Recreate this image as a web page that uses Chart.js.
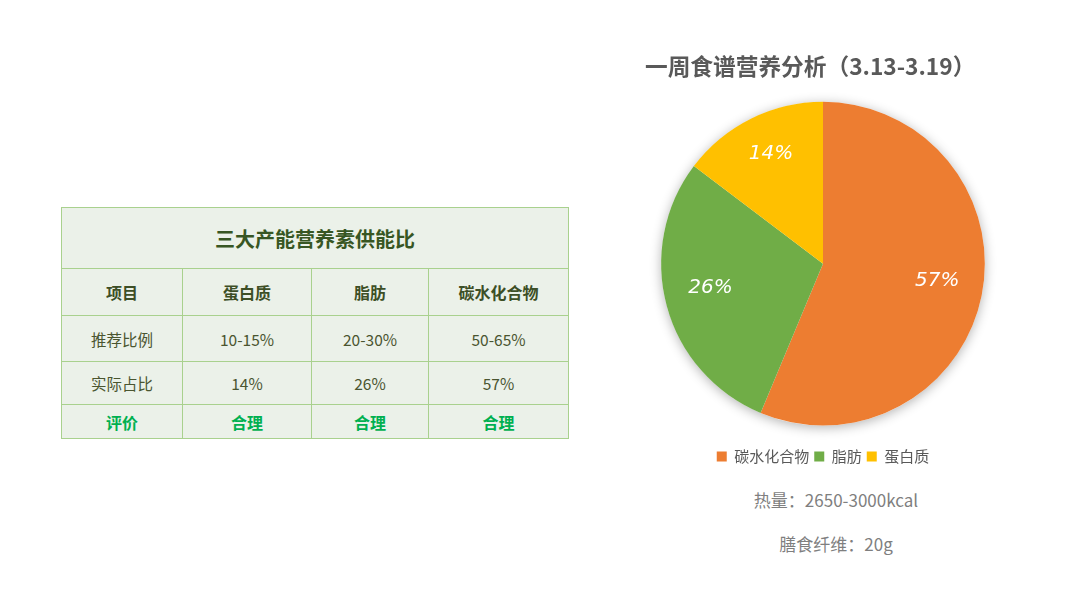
<!DOCTYPE html>
<html>
<head>
<meta charset="utf-8">
<script src="https://cdn.jsdelivr.net/npm/chart.js@4"></script>
<style>
  html, body { margin: 0; padding: 0; background: #ffffff; }
  #page { position: relative; width: 1080px; height: 608px; overflow: hidden; font-family: "Noto Sans CJK SC", "Noto Sans", sans-serif; }
  #tbl { position: absolute; left: 61px; top: 207px; border-collapse: collapse; background: #EBF1E9; table-layout: fixed; }
  #tbl td { border: 1px solid #A9D18E; text-align: center; padding: 0; color: #4A5530; font-size: 15.5px; }
  #tbl tr.title td { height: 60px; font-size: 20px; font-weight: bold; color: #375623; }
  #tbl tr.head td { height: 46px; font-weight: bold; color: #3D4F26; font-size: 16px; }
  #tbl tr.r1 td { height: 45px; }
  #tbl tr.r2 td { height: 42px; }
  #tbl tr.eval td { height: 33px; font-weight: bold; color: #00B050; font-size: 16px; }
  #chartBox { position: absolute; left: 600px; top: 30px; width: 440px; height: 444px; }
  .note { position: absolute; width: 300px; left: 686px; text-align: center; font-size: 17px; color: #7F7F7F; }
</style>
</head>
<body>
<div id="page">
  <table id="tbl"></table>
  <div id="chartBox"><canvas id="c"></canvas></div>
  <div class="note" id="n1" style="top:487px"></div>
  <div class="note" id="n2" style="top:531px"></div>
</div>
<script>
// ---- data ----
const tableTitle = "三大产能营养素供能比";
const tableHeader = ["项目", "蛋白质", "脂肪", "碳水化合物"];
const recommendedRow = ["推荐比例", "10-15%", "20-30%", "50-65%"];
const actualRow = ["实际占比", "14%", "26%", "57%"];
const evaluationRow = ["评价", "合理", "合理", "合理"];
const columnWidths = [121, 129, 117, 140];

const chartTitle = "一周食谱营养分析（3.13-3.19）";
const categories = ["碳水化合物", "脂肪", "蛋白质"];
const sliceValues = [56.3, 29.0, 14.7];
const sliceLabels = ["57%", "26%", "14%"];
const sliceColors = ["#ED7D31", "#70AD47", "#FFC000"];
const notes = ["热量：2650-3000kcal", "膳食纤维：20g"];

// ---- table ----
(function buildTable() {
  const t = document.getElementById('tbl');
  const cg = document.createElement('colgroup');
  columnWidths.forEach(w => { const c = document.createElement('col'); c.style.width = w + 'px'; cg.appendChild(c); });
  t.appendChild(cg);
  const tr0 = document.createElement('tr'); tr0.className = 'title';
  const td0 = document.createElement('td'); td0.colSpan = 4; td0.textContent = tableTitle; tr0.appendChild(td0); t.appendChild(tr0);
  [[tableHeader, 'head'], [recommendedRow, 'r1'], [actualRow, 'r2'], [evaluationRow, 'eval']].forEach(([row, cls]) => {
    const tr = document.createElement('tr'); tr.className = cls;
    row.forEach(v => { const td = document.createElement('td'); td.textContent = v; tr.appendChild(td); });
    t.appendChild(tr);
  });
})();
document.getElementById('n1').textContent = notes[0];
document.getElementById('n2').textContent = notes[1];

// ---- chart ----
const shadowPlugin = {
  id: 'pieShadow',
  beforeDatasetsDraw(chart) {
    const arc = chart.getDatasetMeta(0).data[0];
    if (!arc) return;
    const ctx = chart.ctx;
    ctx.save();
    ctx.shadowColor = 'rgba(0,0,0,0.30)';
    ctx.shadowBlur = 12;
    ctx.shadowOffsetY = 2;
    ctx.beginPath();
    ctx.arc(arc.x, arc.y, arc.outerRadius, 0, Math.PI * 2);
    ctx.fillStyle = '#ffffff';
    ctx.fill();
    ctx.restore();
  }
};
const labelPlugin = {
  id: 'sliceLabels',
  afterDatasetsDraw(chart) {
    const ctx = chart.ctx;
    ctx.save();
    ctx.fillStyle = '#ffffff';
    ctx.font = 'italic 20px "DejaVu Sans", sans-serif';
    ctx.textAlign = 'center';
    ctx.textBaseline = 'middle';
    chart.getDatasetMeta(0).data.forEach((arc, i) => {
      const mid = (arc.startAngle + arc.endAngle) / 2;
      const r = arc.outerRadius * 0.72;
      ctx.fillText(sliceLabels[i], arc.x + Math.cos(mid) * r, arc.y + Math.sin(mid) * r - 6);
    });
    ctx.restore();
  }
};

new Chart(document.getElementById('c'), {
  type: 'pie',
  data: {
    labels: categories,
    datasets: [{ data: sliceValues, backgroundColor: sliceColors, borderWidth: 0 }]
  },
  options: {
    responsive: true,
    maintainAspectRatio: false,
    animation: false,
    layout: { padding: { left: 45, right: 39, top: 0, bottom: 0 } },
    plugins: {
      tooltip: { enabled: false },
      title: {
        display: true,
        text: chartTitle,
        align: 'start',
        color: '#595959',
        font: { family: '"Noto Sans CJK SC", sans-serif', size: 22.7, weight: 'bold', lineHeight: 1.2 },
        padding: { top: 23, bottom: 21.6 }
      },
      legend: {
        position: 'bottom',
        title: { display: true, text: '', font: { size: 10, lineHeight: 1.2 }, padding: { top: 6.5, bottom: 0 } },
        labels: {
          boxWidth: 10, boxHeight: 10, padding: 5,
          color: '#595959',
          font: { family: '"Noto Sans CJK SC", sans-serif', size: 15 }
        }
      }
    }
  },
  plugins: [shadowPlugin, labelPlugin]
});
</script>
</body>
</html>
